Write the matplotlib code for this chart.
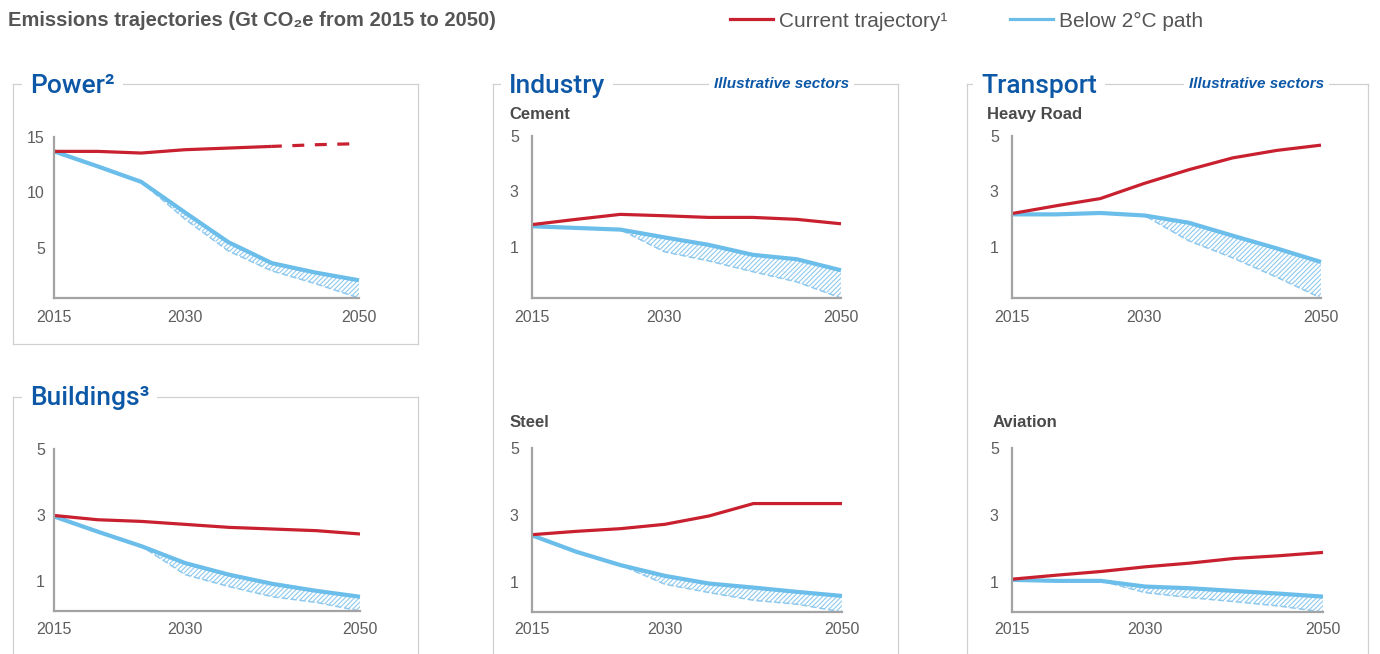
import matplotlib
matplotlib.use("Agg")
import matplotlib.pyplot as plt
from matplotlib.lines import Line2D

plt.rcParams['font.family'] = ['Liberation Sans', 'DejaVu Sans']
plt.rcParams['lines.scale_dashes'] = False
plt.rcParams['hatch.linewidth'] = 0.8

# ---------------- data ----------------
years = [2015, 2020, 2025, 2030, 2035, 2040, 2045, 2050]
xtick_years = [2015, 2030, 2050]

power_current = [13.7, 13.7, 13.55, 13.85, 14.0, 14.15, 14.3, 14.4]
power_below2 = [13.7, 12.35, 10.95, 8.2, 5.5, 3.6, 2.75, 2.05]
power_lower = [13.7, 12.35, 10.95, 7.6, 4.7, 2.9, 1.75, 0.45]

cement_current = [1.80, 1.99, 2.17, 2.12, 2.06, 2.06, 1.99, 1.83]
cement_below2 = [1.74, 1.68, 1.62, 1.34, 1.07, 0.71, 0.55, 0.15]
cement_lower = [1.74, 1.68, 1.62, 0.82, 0.49, 0.10, -0.27, -0.85]

road_current = [2.20, 2.48, 2.74, 3.29, 3.78, 4.21, 4.48, 4.67]
road_below2 = [2.17, 2.17, 2.22, 2.13, 1.87, 1.40, 0.94, 0.45]
road_lower = [2.17, 2.17, 2.22, 2.13, 1.22, 0.60, -0.10, -0.85]

buildings_current = [2.99, 2.86, 2.81, 2.72, 2.63, 2.58, 2.53, 2.43]
buildings_below2 = [2.96, 2.50, 2.06, 1.55, 1.20, 0.92, 0.71, 0.53]
buildings_lower = [2.96, 2.50, 2.06, 1.20, 0.84, 0.53, 0.36, 0.10]

steel_current = [2.41, 2.51, 2.59, 2.72, 2.97, 3.34, 3.34, 3.34]
steel_below2 = [2.39, 1.90, 1.50, 1.18, 0.95, 0.83, 0.70, 0.58]
steel_lower = [2.39, 1.90, 1.50, 0.93, 0.68, 0.45, 0.33, 0.10]

aviation_current = [1.08, 1.20, 1.31, 1.45, 1.56, 1.70, 1.78, 1.88]
aviation_below2 = [1.06, 1.03, 1.03, 0.86, 0.81, 0.73, 0.65, 0.56]
aviation_lower = [1.06, 1.03, 1.03, 0.68, 0.53, 0.41, 0.28, 0.10]

header = "Emissions trajectories (Gt CO\u2082e from 2015 to 2050)"
legend_labels = ["Current trajectory\u00b9", "Below 2\u00b0C path"]

# ---------------- styling ----------------
RED = '#c8202f'
BLUE = '#6bbdea'
HATCH = '#8fc9ee'
TITLE = '#0d58a6'
GRAY = '#555555'
TICK = '#5e5e5e'
AXIS = '#a3a3a3'
BOX = '#d0d0d0'
TITLE_FONT = ['Roboto', 'Liberation Sans', 'DejaVu Sans']

W, H = 1380, 654
fig = plt.figure(figsize=(W / 100, H / 100), dpi=100)


def X(px):
    return px / W


def Y(py):
    return 1 - py / H


def hline(x0, x1, y, **kw):
    fig.add_artist(Line2D([X(x0), X(x1)], [Y(y), Y(y)], transform=fig.transFigure, **kw))


def vline(x, y0, y1, **kw):
    fig.add_artist(Line2D([X(x), X(x)], [Y(y0), Y(y1)], transform=fig.transFigure, **kw))


def box(left, top, right, bottom):
    kw = dict(color=BOX, lw=0.9, zorder=1)
    hline(left, right, top, **kw)
    vline(left, top, bottom, **kw)
    vline(right, top, bottom, **kw)
    if bottom < H:
        hline(left, right, bottom, **kw)


def label(x, y, s, **kw):
    fig.text(X(x), Y(y), s, ha='left', va='baseline', **kw)


def title(x, y, s, size=19, **kw):
    fig.text(X(x), Y(y), s, ha='left', va='baseline', fontsize=size, color=TITLE,
             bbox=dict(boxstyle='square,pad=0.3', fc='white', ec='none'), zorder=5, **kw)


def make_axes(l, r, t, b):
    ax = fig.add_axes([X(l), Y(b), X(r) - X(l), Y(t) - Y(b)])
    ax.patch.set_visible(False)
    return ax


def panel(ax, cur, below, lower, ylim, yticks, ypad, xpad, solid_n=None):
    ax.fill_between(years, lower, below, facecolor='none', edgecolor=HATCH,
                    hatch='///////', linewidth=0, clip_on=False, zorder=2)
    ax.plot(years, lower, color=HATCH, lw=1.1, ls=(0, (4.5, 2.0)), clip_on=False, zorder=3)
    ax.plot(years, below, color=BLUE, lw=3.0, solid_joinstyle='round',
            solid_capstyle='butt', clip_on=False, zorder=4)
    if solid_n is None:
        ax.plot(years, cur, color=RED, lw=2.3, solid_joinstyle='round',
                solid_capstyle='butt', clip_on=False, zorder=5)
    else:
        ax.plot(years[:solid_n], cur[:solid_n], color=RED, lw=2.3,
                solid_joinstyle='round', solid_capstyle='butt', clip_on=False, zorder=5)
        ax.plot(years[solid_n - 1:], cur[solid_n - 1:], color=RED, lw=2.3,
                ls=(1.44, (8.6, 7.6)), clip_on=False, zorder=5)
    ax.set_xlim(2015, 2050)
    ax.set_ylim(*ylim)
    ax.set_xticks(xtick_years)
    ax.set_yticks(yticks)
    for s in ('top', 'right'):
        ax.spines[s].set_visible(False)
    for s in ('left', 'bottom'):
        ax.spines[s].set_color(AXIS)
        ax.spines[s].set_linewidth(1.6)
        ax.spines[s].set_zorder(6)
    ax.tick_params(axis='both', length=0, labelsize=11.5, labelcolor=TICK)
    ax.tick_params(axis='y', pad=ypad)
    ax.tick_params(axis='x', pad=xpad)


# ---------------- header & legend ----------------
label(8, 26, header, fontsize=14.5, weight='bold', color=GRAY)
hline(730, 773, 19, color=RED, lw=2.3)
label(779, 27, legend_labels[0], fontsize=15, color=GRAY)
hline(1010, 1053, 19, color=BLUE, lw=2.3)
label(1059, 27, legend_labels[1], fontsize=15, color=GRAY)

# ---------------- frames & titles ----------------
box(12.7, 84.3, 418, 344)
box(12.7, 397.3, 418, 700)
box(492.7, 84.3, 898, 700)
box(967.3, 84.3, 1368, 700)

title(30, 93, "Power\u00b2", family=TITLE_FONT, weight='medium')
title(30, 405, "Buildings\u00b3", family=TITLE_FONT, weight='medium')
title(509, 93, "Industry", family=TITLE_FONT, weight='medium')
title(981, 93, "Transport", family=TITLE_FONT, weight='medium')
title(714, 88, "Illustrative sectors", size=11, style='italic', weight='bold')
title(1189, 88, "Illustrative sectors", size=11, style='italic', weight='bold')

sub_kw = dict(fontsize=12, weight='bold', color='#4a4a4a')
label(509, 119, "Cement", **sub_kw)
label(987, 119, "Heavy Road", **sub_kw)
label(510, 427, "Steel", **sub_kw)
label(993, 427, "Aviation", **sub_kw)

# ---------------- panels ----------------
ax = make_axes(54, 359, 137, 298)
panel(ax, power_current, power_below2, power_lower, (0.45, 15), [5, 10, 15], 6.5, 9, solid_n=6)

ax = make_axes(532, 841, 136, 298)
panel(ax, cement_current, cement_below2, cement_lower, (-0.85, 5), [1, 3, 5], 9.5, 9)

ax = make_axes(1012, 1321, 136, 298)
panel(ax, road_current, road_below2, road_lower, (-0.85, 5), [1, 3, 5], 9.5, 9)

ax = make_axes(54, 360, 449, 611)
panel(ax, buildings_current, buildings_below2, buildings_lower, (0.1, 5), [1, 3, 5], 6.5, 8)

ax = make_axes(532, 842, 448, 612)
panel(ax, steel_current, steel_below2, steel_lower, (0.1, 5), [1, 3, 5], 9.5, 7.5)

ax = make_axes(1012, 1323, 448, 612)
panel(ax, aviation_current, aviation_below2, aviation_lower, (0.1, 5), [1, 3, 5], 9.5, 7.5)

fig.savefig("out.png", dpi=100, facecolor='white')
